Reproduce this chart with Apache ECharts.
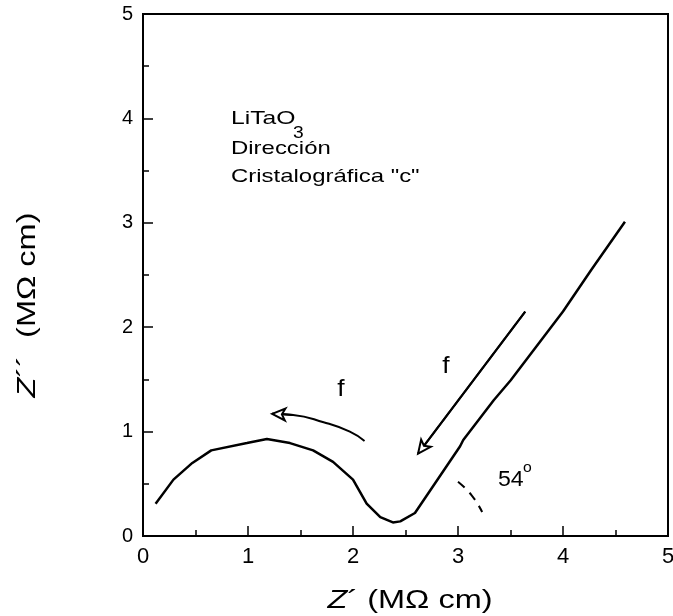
<!DOCTYPE html>
<html>
<head>
<meta charset="utf-8">
<script src="https://cdn.jsdelivr.net/npm/echarts@6/dist/echarts.min.js"></script>
<style>html,body{margin:0;padding:0;background:#fff;overflow:hidden}#c{width:673px;height:616px}</style>
</head>
<body>
<div id="c"></div>
<script>
// Impedance curve Z' vs Z'' (MΩ cm)
const zReal = [0.12,0.29,0.47,0.65,0.99,1.18,1.40,1.62,1.81,2.00,2.13,2.26,2.38,2.45,2.59,3.02,3.05,3.34,3.50,4.00,4.27,4.59];
const zImag = [0.31,0.54,0.70,0.82,0.89,0.93,0.89,0.82,0.71,0.54,0.31,0.18,0.13,0.14,0.22,0.86,0.92,1.30,1.49,2.15,2.55,3.01];
// annotation arrows (frequency direction)
const arrow1X = [2.11,1.97,1.72,1.43,1.23];
const arrow1Y = [0.91,1.00,1.09,1.16,1.17];
const arrow2X = [3.64,2.62];
const arrow2Y = [2.15,0.79];
// dashed angle arc
const arcX = [3.00,3.13,3.23];
const arcY = [0.52,0.39,0.23];
const xTicks = [0,1,2,3,4,5];
const yTicks = [0,1,2,3,4,5];

const zip = (a,b) => a.map((v,i)=>[v,b[i]]);
const FONT = 'Liberation Sans';

const chart = echarts.init(document.getElementById('c'), null, {renderer:'canvas', width:673, height:616});
const axisCommon = {
  min: 0, max: 5, interval: 1,
  axisLine: {show:true, lineStyle:{color:'#000', width:2}},
  axisTick: {show:true, inside:true, length:10, lineStyle:{color:'#000', width:1.5}},
  minorTick: {show:true, splitNumber:2, length:6, lineStyle:{color:'#000', width:1.5}},
  splitLine: {show:false}
};
const txt = (x,y,text,size,sx,extra) => ({type:'text', x:x, y:y, scaleX:sx, style:Object.assign({
  text:text, fontFamily:FONT, fontSize:size, fill:'#000', verticalAlign:'middle'}, extra||{})});
const a1 = zip(arrow1X,arrow1Y);
const a2 = zip(arrow2X,arrow2Y);
const arrowMark = (p, q) => ({silent:true, symbol:['none','emptyArrow'], symbolSize:[9,13],
  label:{show:false}, itemStyle:{color:'#000', borderColor:'#000', borderWidth:1.5},
  lineStyle:{color:'#000', width:2, type:'solid'},
  data:[[{coord:p},{coord:q}]]});
chart.setOption({
  animation:false,
  backgroundColor:'#fff',
  grid:{left:143, right:5, top:14, bottom:80, containLabel:false, outerBoundsMode:'none',
        show:true, borderColor:'#000', borderWidth:2},
  xAxis:[Object.assign({}, axisCommon, {
    type:'value', position:'bottom',
    axisLabel:{fontFamily:FONT, fontSize:22, color:'#000', margin:10,
      formatter:v=> xTicks.includes(v)? String(v):''}
  })],
  yAxis:[Object.assign({}, axisCommon, {
    type:'value', position:'left',
    axisLabel:{fontFamily:FONT, fontSize:20, color:'#000', margin:10,
      formatter:v=> yTicks.includes(v)? String(v):''}
  })],
  graphic:[
    {type:'text', x:410, y:601, scaleX:1.3, style:{
      text:'{i|Z}´ (MΩ cm)', align:'center', verticalAlign:'middle',
      fontFamily:FONT, fontSize:25, fill:'#000',
      rich:{i:{fontFamily:FONT, fontSize:25, fontStyle:'italic', fill:'#000'}}}},
    {type:'text', rotation:Math.PI/2, x:28, y:305, scaleX:1.3, style:{
      text:'{i|Z}´´  (MΩ cm)', align:'center', verticalAlign:'middle',
      fontFamily:FONT, fontSize:25, fill:'#000',
      rich:{i:{fontFamily:FONT, fontSize:25, fontStyle:'italic', fill:'#000'}}}},
    txt(231,119,'LiTaO',19,1.3),
    txt(293,134,'3',16,1.2),
    txt(231,149,'Dirección',19,1.26),
    txt(231,177,'Cristalográfica "c"',19,1.26),
    txt(341,389,'f',24,1.1,{align:'center'}),
    txt(446,366,'f',24,1.1,{align:'center'}),
    txt(498,480,'54',22,1.05),
    txt(523,468,'o',15,1.05)
  ],
  series:[
    {type:'line', data:zip(zReal,zImag), symbol:'none', smooth:false,
     lineStyle:{color:'#000', width:2.5}},
    {type:'line', data:zip(arcX,arcY), symbol:'none', smooth:true,
     lineStyle:{color:'#000', width:2, type:[9,7]}},
    {type:'line', data:a1, symbol:'none', smooth:true,
     lineStyle:{color:'#000', width:2},
     markLine:arrowMark(a1[a1.length-2], a1[a1.length-1])},
    {type:'line', data:a2, symbol:'none',
     lineStyle:{color:'#000', width:2},
     markLine:arrowMark(a2[0], a2[1])}
  ]
});
</script>
</body>
</html>
